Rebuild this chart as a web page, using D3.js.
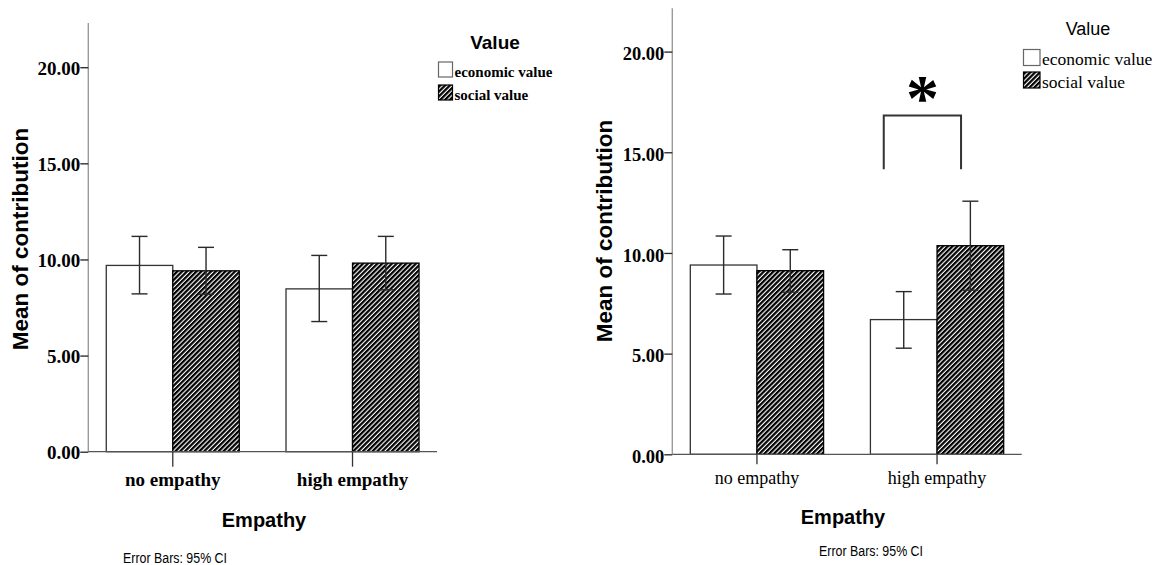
<!DOCTYPE html>
<html>
<head>
<meta charset="utf-8">
<script src="https://cdn.jsdelivr.net/npm/d3@7"></script>
<style>
  html, body { margin: 0; padding: 0; background: #fff; }
  svg { display: block; }
</style>
</head>
<body>
<svg id="chart" width="1161" height="565"></svg>
<script>
// Categories and series shared by both panels
const categories = ["no empathy", "high empathy"];
const series = ["economic value", "social value"];
const yTicks = [0, 5, 10, 15, 20];

// Panel A: means and 95% CI bounds, ordered [no empathy, high empathy]
const leftEconomicMean = [9.69, 8.47];
const leftEconomicLow = [8.21, 6.77];
const leftEconomicHigh = [11.20, 10.21];
const leftSocialMean = [9.41, 9.81];
const leftSocialLow = [8.19, 8.42];
const leftSocialHigh = [10.63, 11.20];

// Panel B: means and 95% CI bounds
const rightEconomicMean = [9.40, 6.69];
const rightEconomicLow = [7.96, 5.27];
const rightEconomicHigh = [10.84, 8.08];
const rightSocialMean = [9.12, 10.36];
const rightSocialLow = [8.05, 8.15];
const rightSocialHigh = [10.16, 12.57];

// Significance bracket in panel B (data units)
const bracketTop = 16.82;
const bracketLegBottom = 14.16;

const svg = d3.select("#chart");
const defs = svg.append("defs");

// Diagonal hatch for the social-value bars
const hatch = defs.append("pattern")
  .attr("id", "hatch")
  .attr("patternUnits", "userSpaceOnUse")
  .attr("width", 3.4)
  .attr("height", 10)
  .attr("patternTransform", "rotate(45)");
hatch.append("rect").attr("width", 3.4).attr("height", 10).attr("fill", "#fff");
hatch.append("rect").attr("width", 2.25).attr("height", 10).attr("fill", "#000");

function buildRows(eMean, eLow, eHigh, sMean, sLow, sHigh) {
  const rows = [];
  categories.forEach((c, i) => {
    rows.push({ cat: c, ser: series[0], mean: eMean[i], low: eLow[i], high: eHigh[i] });
    rows.push({ cat: c, ser: series[1], mean: sMean[i], low: sLow[i], high: sHigh[i] });
  });
  return rows;
}

function drawPanel(cfg) {
  const g = svg.append("g");
  const y = d3.scaleLinear().domain([0, cfg.yMax]).range([cfg.y0, cfg.yTop]);
  const x = d3.scaleBand().domain(categories).range([cfg.x0, cfg.x1])
    .paddingInner(0.26).paddingOuter(0.1);
  const xs = d3.scaleBand().domain(series).range([0, x.bandwidth()]);

  // Y axis line and ticks
  g.append("line")
    .attr("x1", cfg.x0).attr("x2", cfg.x0)
    .attr("y1", y(0)).attr("y2", cfg.yTop)
    .attr("stroke", "#9a9a9a").attr("stroke-width", 1.4);
  const yAxis = d3.axisLeft(y).tickValues(yTicks).tickSize(8).tickSizeOuter(0)
    .tickFormat(d3.format(".2f"));
  const ya = g.append("g").attr("transform", `translate(${cfg.x0},0)`).call(yAxis);
  ya.select(".domain").remove();
  ya.selectAll(".tick line").attr("stroke", "#222").attr("stroke-width", 1.3);
  ya.selectAll(".tick text")
    .attr("font-family", "'Liberation Serif', 'Times New Roman', serif")
    .attr("font-weight", "bold")
    .attr("font-size", cfg.tickFont)
    .attr("fill", "#000")
    .attr("x", -8)
    .attr("dy", cfg.tickDy);

  // Bars
  const rows = buildRows(...cfg.data);
  g.selectAll("rect.bar").data(rows).enter().append("rect")
    .attr("class", "bar")
    .attr("x", d => x(d.cat) + xs(d.ser))
    .attr("y", d => y(d.mean))
    .attr("width", xs.bandwidth())
    .attr("height", d => y(0) - y(d.mean))
    .attr("fill", d => d.ser === series[0] ? "#fff" : "url(#hatch)")
    .attr("stroke", d => d.ser === series[0] ? "#333" : "#000")
    .attr("stroke-width", 1.3);

  // X axis line and category ticks
  g.append("line")
    .attr("x1", cfg.x0).attr("x2", cfg.x1)
    .attr("y1", y(0)).attr("y2", y(0))
    .attr("stroke", "#555").attr("stroke-width", 1.3);
  const xAxis = d3.axisBottom(x).tickSize(cfg.catTick).tickSizeOuter(0);
  const xa = g.append("g").attr("transform", `translate(0,${y(0)})`).call(xAxis);
  xa.select(".domain").remove();
  xa.selectAll(".tick line").attr("stroke", "#333").attr("stroke-width", 1.3);
  xa.selectAll(".tick text")
    .attr("font-family", "'Liberation Serif', 'Times New Roman', serif")
    .attr("font-weight", cfg.catWeight)
    .attr("font-size", cfg.catFont)
    .attr("fill", "#000")
    .attr("y", null).attr("dy", null)
    .attr("transform", `translate(0,${cfg.catBaseline - y(0)})`);

  // 95% CI error bars
  const cap = 8;
  const eb = g.selectAll("g.err").data(rows).enter().append("g").attr("class", "err")
    .attr("stroke", "#2a2a2a").attr("stroke-width", 1.4);
  const cx = d => x(d.cat) + xs(d.ser) + xs.bandwidth() / 2;
  eb.append("line").attr("x1", cx).attr("x2", cx)
    .attr("y1", d => y(d.low)).attr("y2", d => y(d.high));
  eb.append("line").attr("x1", d => cx(d) - cap).attr("x2", d => cx(d) + cap)
    .attr("y1", d => y(d.high)).attr("y2", d => y(d.high));
  eb.append("line").attr("x1", d => cx(d) - cap).attr("x2", d => cx(d) + cap)
    .attr("y1", d => y(d.low)).attr("y2", d => y(d.low));

  // Axis titles
  g.append("text")
    .attr("transform", `translate(${cfg.yTitleX},${cfg.yTitleY}) rotate(-90)`)
    .attr("text-anchor", "middle")
    .attr("font-family", "'Liberation Sans', Arial, sans-serif")
    .attr("font-weight", "bold")
    .attr("font-size", 22.5)
    .text("Mean of contribution");
  g.append("text")
    .attr("x", cfg.xTitleX).attr("y", cfg.xTitleY)
    .attr("text-anchor", "middle")
    .attr("font-family", "'Liberation Sans', Arial, sans-serif")
    .attr("font-weight", "bold")
    .attr("font-size", 20)
    .text("Empathy");
  g.append("text")
    .attr("x", cfg.noteX).attr("y", cfg.noteY)
    .attr("text-anchor", "middle")
    .attr("font-family", "'Liberation Sans', Arial, sans-serif")
    .attr("font-size", 14)
    .attr("textLength", 104)
    .attr("lengthAdjust", "spacingAndGlyphs")
    .text("Error Bars: 95% CI");

  // Legend
  const lg = g.append("g");
  lg.append("text")
    .attr("x", cfg.legTitleX).attr("y", cfg.legTitleY)
    .attr("text-anchor", "middle")
    .attr("font-family", "'Liberation Sans', Arial, sans-serif")
    .attr("font-weight", cfg.legTitleWeight)
    .attr("font-size", cfg.legTitleFont)
    .text("Value");
  series.forEach((s, i) => {
    lg.append("rect")
      .attr("x", cfg.legBoxX).attr("y", cfg.legBoxY + i * cfg.legStep)
      .attr("width", cfg.legBoxW).attr("height", cfg.legBoxH)
      .attr("fill", i === 0 ? "#fff" : "url(#hatch)")
      .attr("stroke", i === 0 ? "#666" : "#000")
      .attr("stroke-width", 1.2);
    lg.append("text")
      .attr("x", cfg.legBoxX + cfg.legBoxW + 2)
      .attr("y", cfg.legBoxY + i * cfg.legStep + cfg.legTextDy)
      .attr("font-family", "'Liberation Serif', 'Times New Roman', serif")
      .attr("font-weight", cfg.legWeight)
      .attr("font-size", cfg.legFont)
      .text(s);
  });

  return { x, xs, y, g };
}

drawPanel({
  x0: 88.3, x1: 437, y0: 451.7, yTop: 23, yMax: 22.3,
  tickFont: 19, tickDy: "0.36em",
  catFont: 19, catWeight: "bold", catBaseline: 486, catTick: 15,
  yTitleX: 28, yTitleY: 239,
  xTitleX: 264, xTitleY: 527,
  noteX: 175, noteY: 563,
  legTitleX: 495, legTitleY: 49.3, legTitleWeight: "bold", legTitleFont: 19,
  legBoxX: 438.5, legBoxY: 62, legBoxW: 14, legBoxH: 15, legStep: 23,
  legTextDy: 14.5, legFont: 15, legWeight: "bold",
  data: [leftEconomicMean, leftEconomicLow, leftEconomicHigh,
         leftSocialMean, leftSocialLow, leftSocialHigh]
});

const right = drawPanel({
  x0: 672.3, x1: 1021.7, y0: 454.3, yTop: 8.3, yMax: 22.15,
  tickFont: 18.5, tickDy: "0.45em",
  catFont: 18, catWeight: "normal", catBaseline: 484, catTick: 10,
  yTitleX: 612, yTitleY: 231,
  xTitleX: 843, xTitleY: 524,
  noteX: 871, noteY: 556,
  legTitleX: 1088, legTitleY: 35, legTitleWeight: "normal", legTitleFont: 18,
  legBoxX: 1023.5, legBoxY: 49.5, legBoxW: 16.5, legBoxH: 16, legStep: 22.5,
  legTextDy: 15.5, legFont: 17.5, legWeight: "normal",
  data: [rightEconomicMean, rightEconomicLow, rightEconomicHigh,
         rightSocialMean, rightSocialLow, rightSocialHigh]
});

// Significance bracket between the high-empathy bars of panel B
{
  const { x, xs, y, g } = right;
  const cat = categories[1];
  const bw = xs.bandwidth();
  const bx1 = x(cat) + xs(series[0]) + bw * 0.2;
  const bx2 = x(cat) + xs(series[1]) + bw * 0.36;
  const path = d3.path();
  path.moveTo(bx1, y(bracketLegBottom));
  path.lineTo(bx1, y(bracketTop));
  path.lineTo(bx2, y(bracketTop));
  path.lineTo(bx2, y(bracketLegBottom));
  g.append("path").attr("d", path.toString())
    .attr("fill", "none").attr("stroke", "#333").attr("stroke-width", 2);
  g.append("text")
    .attr("x", (bx1 + bx2) / 2)
    .attr("y", y(bracketTop) + 4)
    .attr("text-anchor", "middle")
    .attr("font-family", "'Liberation Serif', 'Times New Roman', serif")
    .attr("font-weight", "bold")
    .attr("font-size", 66)
    .text("*");
}
</script>
</body>
</html>
